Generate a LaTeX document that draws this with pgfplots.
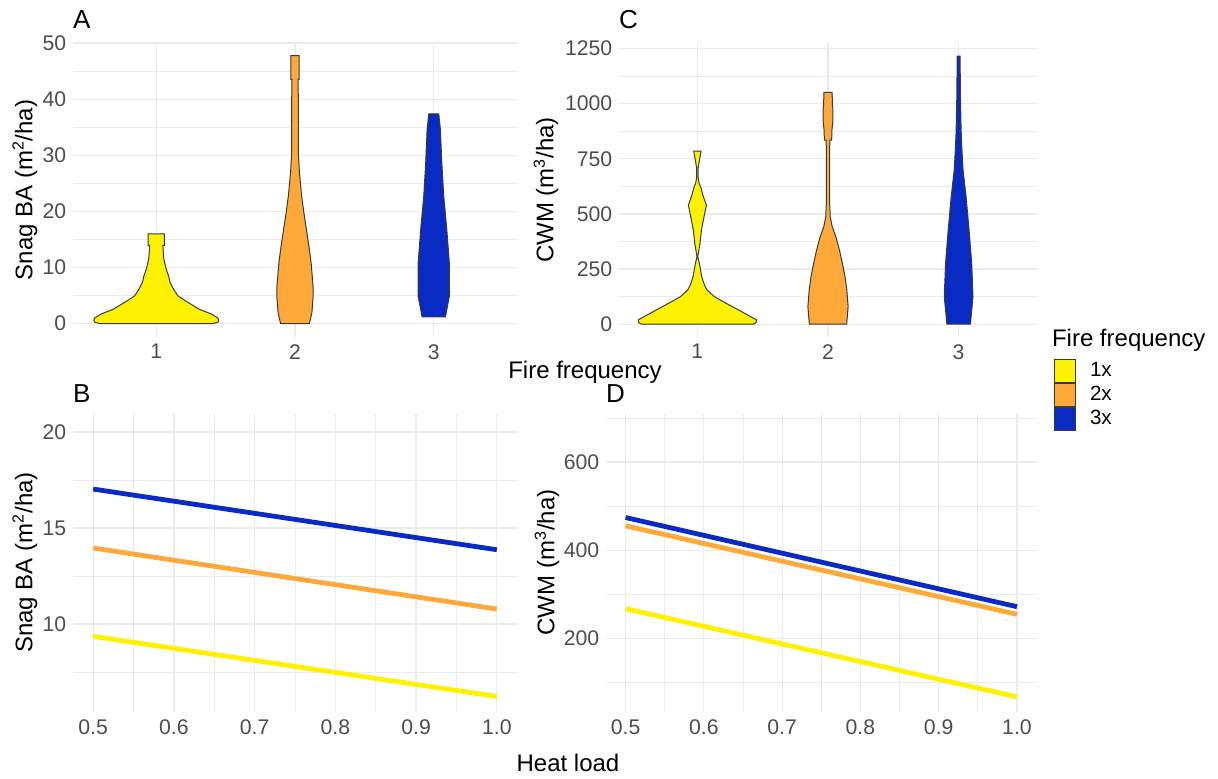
\documentclass[border=0pt]{standalone}
\usepackage{pgfplots}
\pgfplotsset{compat=1.18}
\usepackage{fontspec}
\setmainfont{Liberation Sans}
\definecolor{yel}{HTML}{FFF200}
\definecolor{org}{HTML}{FFA93A}
\definecolor{blu}{HTML}{0A2AC4}
\definecolor{gridc}{HTML}{EBEBEB}
\definecolor{tickc}{HTML}{4D4D4D}
\definecolor{outc}{HTML}{3A3A3A}
\pgfplotsset{
  panel/.style={
    scale only axis, anchor=south west,
    axis line style={draw=none}, tick style={draw=none},
    major tick length=0pt, minor tick length=0pt,
    grid=both,
    major grid style={draw=gridc, line width=0.6pt},
    minor grid style={draw=gridc, line width=0.35pt},
    tick label style={font=\fontsize{10.6}{12}\selectfont, text=tickc},
    xticklabel style={inner sep=0pt, yshift=-3.5pt},
    yticklabel style={inner sep=0pt, xshift=-3.2pt},
  },
  vio/.style={draw=outc, line width=0.5pt, fill=#1},
  fit/.style={draw=#1, line width=2.4pt},
}
\begin{document}
\begin{tikzpicture}
\useasboundingbox (0,0) rectangle (609pt,389pt);
% ---------------- A ----------------
\begin{axis}[panel, at={(36.5pt,220.5pt)}, width=222pt, height=147pt,
  xmin=0.4, xmax=3.6, ymin=-2.4, ymax=50,
  xtick={1,2,3}, xticklabels={1,2,3},
  ytick={0,10,20,30,40,50}, yticklabels={0,10,20,30,40,50},
  minor ytick={5,15,25,35,45},
  legend style={at={(2.2095,-0.0748)}, anchor=north west, draw=none, fill=none,
    inner sep=0pt, outer sep=0pt, row sep=0pt, column sep=7pt,
    font=\fontsize{10.3}{11}\selectfont, nodes={inner sep=0pt, outer sep=0pt}},
  legend cell align=left,
  legend image code/.code={\draw[#1, draw=outc, line width=0.5pt] (0pt,-5.75pt) rectangle (10.5pt,5.75pt);},
]
\addplot[vio=yel] coordinates {
(0.59,0) (0.555,0.25) (0.55,0.6) (0.557,1.0) (0.60,1.66) (0.69,2.55) (0.77,3.74) (0.844,4.92) (0.875,6.11) (0.90,7.3) (0.911,8.48) (0.928,9.67) (0.94,10.85) (0.947,11.74) (0.952,13.94) (0.942,13.94) (0.942,16.0)
(1.058,16.0) (1.058,13.94) (1.048,13.94) (1.053,11.74) (1.06,10.85) (1.072,9.67) (1.089,8.48) (1.10,7.3) (1.125,6.11) (1.156,4.92) (1.23,3.74) (1.31,2.55) (1.40,1.66) (1.443,1.0) (1.45,0.6) (1.445,0.25) (1.41,0)
} -- cycle;
\addlegendentry{1x}
\addplot[vio=org] coordinates {
(1.896,0) (1.878,1.96) (1.869,4.92) (1.87,6.7) (1.884,10.85) (1.9,13.8) (1.918,16.8) (1.936,19.75) (1.952,22.7) (1.968,26.9) (1.975,30) (1.977,43.5) (1.97,43.5) (1.97,47.75)
(2.03,47.75) (2.03,43.5) (2.023,43.5) (2.025,30) (2.032,26.9) (2.048,22.7) (2.064,19.75) (2.082,16.8) (2.1,13.8) (2.116,10.85) (2.13,6.7) (2.131,4.92) (2.122,1.96) (2.104,0)
} -- cycle;
\addlegendentry{2x}
\addplot[vio=blu] coordinates {
(2.916,1.19) (2.887,4.92) (2.888,10.85) (2.906,16.79) (2.928,22.72) (2.942,28.65) (2.952,34.58) (2.964,37.37)
(3.036,37.37) (3.048,34.58) (3.058,28.65) (3.072,22.72) (3.094,16.79) (3.112,10.85) (3.113,4.92) (3.084,1.19)
} -- cycle;
\addlegendentry{3x}
\end{axis}
% ---------------- C ----------------
\begin{axis}[panel, at={(309.5pt,220.5pt)}, width=209pt, height=147pt,
  xmin=0.4, xmax=3.6, ymin=-58, ymax=1275,
  xtick={1,2,3}, xticklabels={1,2,3},
  ytick={0,250,500,750,1000,1250}, yticklabels={0,250,500,750,1000,1250},
  minor ytick={125,375,625,875,1125},
]
\addplot[vio=yel] coordinates {
(0.57,0) (0.55,8) (0.548,20) (0.64,50) (0.78,95) (0.87,125) (0.926,155) (0.946,178) (0.967,216) (0.985,276) (0.997,306) (0.98,367) (0.969,427) (0.949,488) (0.931,540) (0.954,578) (0.975,623) (0.987,639) (0.995,669) (0.995,706) (0.972,785)
(1.028,785) (1.005,706) (1.005,669) (1.013,639) (1.025,623) (1.046,578) (1.069,540) (1.051,488) (1.031,427) (1.02,367) (1.003,306) (1.015,276) (1.033,216) (1.054,178) (1.074,155) (1.13,125) (1.22,95) (1.36,50) (1.452,20) (1.45,8) (1.43,0)
} -- cycle;
\addplot[vio=org] coordinates {
(1.857,0) (1.846,80) (1.856,155) (1.87,216) (1.89,276) (1.913,337) (1.94,397) (1.968,442) (1.983,488) (1.987,548) (1.988,608) (1.988,790) (1.985,835) (1.972,835) (1.97,880) (1.962,925) (1.962,970) (1.967,1000) (1.968,1051)
(2.032,1051) (2.033,1000) (2.038,970) (2.038,925) (2.03,880) (2.028,835) (2.015,835) (2.012,790) (2.012,608) (2.013,548) (2.017,488) (2.032,442) (2.06,397) (2.087,337) (2.11,276) (2.13,216) (2.144,155) (2.154,80) (2.143,0)
} -- cycle;
\addplot[vio=blu] coordinates {
(2.91,0) (2.89,125) (2.9,276) (2.92,427) (2.943,578) (2.966,699) (2.976,805) (2.981,880) (2.986,1031) (2.989,1215)
(3.011,1215) (3.014,1031) (3.019,880) (3.024,805) (3.034,699) (3.057,578) (3.08,427) (3.1,276) (3.11,125) (3.09,0)
} -- cycle;
\end{axis}
% ---------------- B ----------------
\begin{axis}[panel, at={(36.5pt,33pt)}, width=222pt, height=149.5pt,
  xmin=0.475, xmax=1.025, ymin=5.42, ymax=20.99,
  xtick={0.5,0.6,0.7,0.8,0.9,1.0}, xticklabels={0.5,0.6,0.7,0.8,0.9,1.0},
  minor xtick={0.55,0.65,0.75,0.85,0.95},
  ytick={10,15,20}, yticklabels={10,15,20},
  minor ytick={7.5,12.5,17.5},
]
\addplot[fit=yel] coordinates {(0.5,9.36) (1.0,6.23)};
\addplot[fit=org] coordinates {(0.5,13.96) (1.0,10.78)};
\addplot[fit=blu] coordinates {(0.5,17.03) (1.0,13.87)};
\end{axis}
% ---------------- D ----------------
\begin{axis}[panel, at={(303pt,33pt)}, width=215.5pt, height=149.5pt,
  xmin=0.475, xmax=1.0256, ymin=33, ymax=711,
  xtick={0.5,0.6,0.7,0.8,0.9,1.0}, xticklabels={0.5,0.6,0.7,0.8,0.9,1.0},
  minor xtick={0.55,0.65,0.75,0.85,0.95},
  ytick={200,400,600}, yticklabels={200,400,600},
  minor ytick={100,300,500,700},
]
\addplot[fit=yel] coordinates {(0.5,267.3) (1.0,67.3)};
\addplot[fit=org] coordinates {(0.5,455.2) (1.0,254.5)};
\addplot[fit=blu] coordinates {(0.5,474) (1.0,271.8)};
\end{axis}
% ---------------- text ----------------
\begin{scope}[every node/.style={inner sep=0pt, outer sep=0pt}]
\node[anchor=base west, font=\fontsize{13}{15}\selectfont] at (36.5pt,374.5pt) {A};
\node[anchor=base west, font=\fontsize{13}{15}\selectfont] at (309.5pt,374.5pt) {C};
\node[anchor=base west, font=\fontsize{13}{15}\selectfont] at (36.5pt,188pt) {B};
\node[anchor=base west, font=\fontsize{13}{15}\selectfont] at (303pt,188pt) {D};
\node[rotate=90, font=\fontsize{12}{14}\selectfont] at (12.5pt,294pt) {Snag BA (m\textsuperscript{2}/ha)};
\node[rotate=90, font=\fontsize{12}{14}\selectfont] at (12.5pt,107.75pt) {Snag BA (m\textsuperscript{2}/ha)};
\node[rotate=90, font=\fontsize{12}{14}\selectfont] at (273pt,294pt) {CWM (m\textsuperscript{3}/ha)};
\node[rotate=90, font=\fontsize{12}{14}\selectfont] at (273.5pt,107.75pt) {CWM (m\textsuperscript{3}/ha)};
\node[anchor=base, font=\fontsize{12}{14}\selectfont] at (292.5pt,200pt) {Fire frequency};
\node[anchor=base, font=\fontsize{12}{14}\selectfont] at (284pt,3.15pt) {Heat load};
\node[anchor=base west, font=\fontsize{12}{14}\selectfont] at (526pt,216pt) {Fire frequency};
\end{scope}
\end{tikzpicture}
\end{document}
